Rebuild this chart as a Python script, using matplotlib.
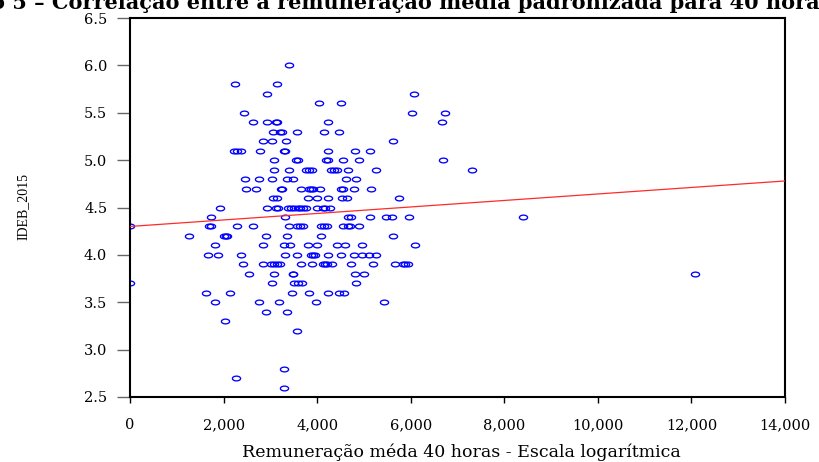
import matplotlib
matplotlib.use("Agg")
import matplotlib.pyplot as plt
from matplotlib.path import Path
from matplotlib.transforms import Affine2D
from matplotlib.ticker import FixedLocator, FuncFormatter

# Average pay (standardised to 40 hours) per school network and its IDEB 2015 score
remuneracao = [
    3391,
    2237, 3134,
    2921, 6063,
    4032, 4502,
    2444, 6020, 6725,
    2622, 2928, 3114, 3152, 4231, 6674,
    3050, 3206, 3248, 3575, 4146, 4466,
    2842, 3035, 3334, 5627,
    2222, 2297, 2372, 2778, 3291, 3320, 4231, 4815, 5129,
    3071, 3541, 3597, 4195, 4223, 4552, 4887, 6689,
    3077, 3391, 3761, 3825, 3889, 4295, 4359, 4424, 4652, 5257, 7309,
    2457, 2757, 3041, 3355, 3490, 4622, 4830,
    2486, 2700, 3220, 3255, 3654, 3825, 3868, 3904, 4067, 4516, 4559, 4794, 5143,
    3062, 3141, 3810, 3990, 4238, 4524, 4631, 5742,
    1923, 2928, 3114, 3156, 3384, 3440, 3515, 3597, 3643, 3697, 3772, 3996, 4124, 4173, 4265,
    1737, 3319, 4659, 4716, 5129, 5471, 5592, 5970, 8398,
    0, 1682, 1731, 2293, 2628, 3391, 3562, 3633, 3690, 4082, 4152, 4203, 4545, 4664, 4701, 4900,
    1267, 2009, 2052, 2080, 2906, 3355, 4075, 5621,
    1823, 2842, 3291, 3426, 3797, 3990, 4431, 4595, 4958, 6094,
    1660, 1880, 2378, 3305, 3562, 3868, 3904, 3961, 4238, 4516, 4794, 4965, 5115, 5264,
    2421, 2842, 3021, 3084, 3135, 3206, 3654, 3896, 4117, 4167, 4217, 4324, 4716, 5186, 5663, 5841, 5883, 5941,
    2543, 3077, 3476, 3490, 4801, 5007, 12074,
    0, 3041, 3511, 3597, 3669, 4836,
    1630, 2137, 3455, 3818, 4231, 4459, 4580,
    1823, 2757, 3177, 3975, 5428,
    2906, 3355,
    2030,
    3569,
    3291,
    2265,
    3291,
]

ideb = (
    [6.0] * 1 + [5.8] * 2 + [5.7] * 2 + [5.6] * 2 + [5.5] * 3 + [5.4] * 6
    + [5.3] * 6 + [5.2] * 4 + [5.1] * 9 + [5.0] * 8 + [4.9] * 11 + [4.8] * 7
    + [4.7] * 13 + [4.6] * 8 + [4.5] * 15 + [4.4] * 9 + [4.3] * 16 + [4.2] * 8
    + [4.1] * 10 + [4.0] * 14 + [3.9] * 18 + [3.8] * 7 + [3.7] * 6 + [3.6] * 7
    + [3.5] * 5 + [3.4] * 2 + [3.3] * 1 + [3.2] * 1 + [2.8] * 1 + [2.7] * 1
    + [2.6] * 1
)

# Fitted trend line (end points over the axis range)
fit_x = [0, 14000]
fit_y = [4.30, 4.78]

x_ticks = [0, 2000, 4000, 6000, 8000, 10000, 12000, 14000]
y_ticks = [2.5, 3.0, 3.5, 4.0, 4.5, 5.0, 5.5, 6.0, 6.5]

titulo_prefixo = "Gráfico 5 – "
titulo = titulo_prefixo + "Correlação entre a remuneração média padronizada para 40 horas e o IDEB"
rotulo_x = "Remuneração méda 40 horas - Escala logarítmica"
rotulo_y = "IDEB_2015"

W, H, DPI = 819, 462, 100
fig = plt.figure(figsize=(W / DPI, H / DPI), dpi=DPI)
fig.patch.set_facecolor("white")
ax = fig.add_axes([130 / W, 1 - 397 / H, 655 / W, 379 / H])

# hollow, slightly flattened circles
ellipse = Path.unit_circle().transformed(Affine2D().scale(1.0, 0.58))
ax.plot(remuneracao, ideb, linestyle="none", marker=ellipse, ms=5.9,
        mfc="none", mec="#0000ff", mew=0.95, zorder=2)
ax.plot(fit_x, fit_y, color="#ff2a2a", lw=0.9, zorder=3)

ax.set_xlim(0, 14000)
ax.set_ylim(2.5, 6.5)
ax.xaxis.set_major_locator(FixedLocator(x_ticks))
ax.yaxis.set_major_locator(FixedLocator(y_ticks))
ax.xaxis.set_major_formatter(FuncFormatter(lambda v, p: f"{v:,.0f}"))
ax.yaxis.set_major_formatter(FuncFormatter(lambda v, p: f"{v:.1f}"))

for lab in ax.get_xticklabels() + ax.get_yticklabels():
    lab.set_fontfamily("DejaVu Serif")
    lab.set_fontsize(10.5)

ax.tick_params(axis="y", direction="out", length=9.4, width=1.0, color="#666666",
               pad=7, labelcolor="black")
ax.tick_params(axis="x", direction="out", length=4.3, width=1.0, color="black",
               pad=11, labelcolor="black")

for s in ax.spines.values():
    s.set_linewidth(1.5)
    s.set_color("black")

fig.text(23 / W, 1 - 207 / H, rotulo_y, rotation=90, ha="center", va="center",
         family="Liberation Serif", fontsize=10)
fig.text(461 / W, 1 - 452 / H, rotulo_x, ha="center", va="center",
         family="DejaVu Serif", fontsize=12.5)

# title runs off the top and right edges; "Correlação" starts at x = 52 px
title_style = dict(family="DejaVu Serif", fontweight="bold", fontsize=15)
renderer = fig.canvas.get_renderer()
probe = fig.text(0, 0, titulo_prefixo.rstrip() + " ", **title_style)
prefix_w = probe.get_window_extent(renderer).width
probe.remove()
fig.text((52 - prefix_w) / W, 1 - 9 / H, titulo, ha="left", va="baseline",
         **title_style)

fig.savefig("out.png", dpi=DPI)
